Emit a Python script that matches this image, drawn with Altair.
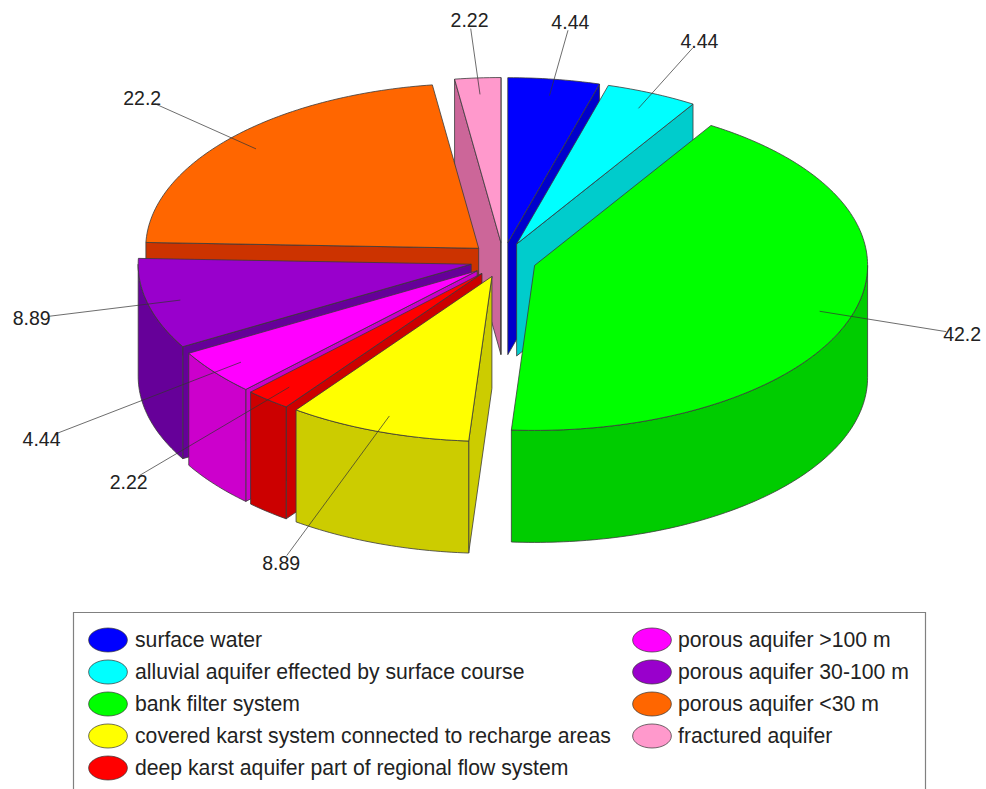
import numpy as np
import pandas as pd
import altair as alt

# Source categories, in clockwise order from twelve o'clock
categories = [
    "surface water",
    "alluvial aquifer effected by surface course",
    "bank filter system",
    "covered karst system connected to recharge areas",
    "deep karst aquifer part of regional flow system",
    "porous aquifer >100 m",
    "porous aquifer 30-100 m",
    "porous aquifer <30 m",
    "fractured aquifer",
]
shares = [4.44, 4.44, 42.2, 8.89, 2.22, 4.44, 8.89, 22.2, 2.22]
top_colors = ["#0000FF", "#00FFFF", "#00FF00", "#FFFF00", "#FF0000",
              "#FF00FF", "#9900CC", "#FF6600", "#FF99CC"]
side_colors = ["#0000CC", "#00CCCC", "#00CC00", "#CCCC00", "#CC0000",
               "#CC00CC", "#660099", "#CC3300", "#CC6699"]

# Pie projection, in pixels of the 986x789 canvas
CX, CY = 503.2, 260.0      # pie centre
RX, RY = 333.0, 165.0      # ellipse radii of a slice
EX, EY = 33.0, 17.5        # explosion distance of each slice
DEPTH = 112.0              # height of the extruded wall
LABEL_REACH = [1.35, 1.35, 1.35, 1.85, 1.65, 1.66, 1.36, 1.36, 1.35]
PAINT_ORDER = [8, 0, 1, 7, 6, 5, 4, 3, 2]  # back to front

W, H = 986, 789
x_scale = alt.Scale(domain=[0, W], range=[0, W], nice=False, zero=False)
y_scale = alt.Scale(domain=[0, H], range=[0, H], nice=False, zero=False)
X = lambda f="x": alt.X(f"{f}:Q", scale=x_scale, axis=None)
Y = lambda f="y": alt.Y(f"{f}:Q", scale=y_scale, axis=None)

edges = np.concatenate([[0], np.cumsum(shares)]) / np.sum(shares) * 360.0


def ellipse_arc(ox, oy, a, b, drop=0.0):
    t = np.radians(np.linspace(a, b, max(2, int(abs(b - a)) + 2)))
    return list(zip(ox + RX * np.sin(t), oy - RY * np.cos(t) + drop))


rows = []


def add_polygon(points, fill):
    pid = f"p{len(set(r['poly'] for r in rows)):03d}"
    closed = list(points) + [points[0]]
    for seq, (px, py) in enumerate(closed):
        rows.append({"poly": pid, "seq": seq, "x": float(px), "y": float(py), "fill": fill})


leaders, labels = [], []
for i in range(len(shares)):
    a, b = edges[i], edges[i + 1]
    mid = np.radians((a + b) / 2)
    ox = CX + EX * np.sin(mid)
    oy = CY - EY * np.cos(mid)

    leader_pts = []
    for f in (0.9, LABEL_REACH[i] - 0.05):
        leader_pts.append((ox + RX * f * np.sin(mid), oy - RY * f * np.cos(mid)))
    for seq, (px, py) in enumerate(leader_pts):
        leaders.append({"id": categories[i], "seq": seq, "x": px, "y": py})
    f = LABEL_REACH[i]
    labels.append({"x": ox + RX * f * np.sin(mid), "y": oy - RY * f * np.cos(mid) + 1,
                   "text": str(shares[i])})

# Faces are painted slice by slice so nearer ones hide the farther ones
for i in PAINT_ORDER:
    a, b = edges[i], edges[i + 1]
    mid = np.radians((a + b) / 2)
    ox = CX + EX * np.sin(mid)
    oy = CY - EY * np.cos(mid)
    rim = ellipse_arc(ox, oy, a, b)

    # Radial cut faces that look toward the viewer
    if np.sin(np.radians(a)) < 0:
        p = rim[0]
        add_polygon([(ox, oy), p, (p[0], p[1] + DEPTH), (ox, oy + DEPTH)], side_colors[i])
    if np.sin(np.radians(b)) > 0:
        p = rim[-1]
        add_polygon([(ox, oy), p, (p[0], p[1] + DEPTH), (ox, oy + DEPTH)], side_colors[i])

    # Outer wall, only where the rim faces the viewer
    lo, hi = max(a, 90.0), min(b, 270.0)
    if hi > lo:
        upper = ellipse_arc(ox, oy, lo, hi)
        lower = ellipse_arc(ox, oy, lo, hi, DEPTH)
        add_polygon(upper + lower[::-1], side_colors[i])

    # Top surface
    add_polygon([(ox, oy)] + rim, top_colors[i])

faces = (
    alt.Chart(pd.DataFrame(rows))
    .mark_line(stroke="#3a3a3a", strokeWidth=0.8, strokeJoin="round", clip=False)
    .encode(x=X(), y=Y(), detail="poly:N", order="seq:Q",
            fill=alt.Fill("fill:N", scale=None))
)

leader_layer = (
    alt.Chart(pd.DataFrame(leaders))
    .mark_line(stroke="#333333", strokeWidth=0.9, opacity=0.8)
    .encode(x=X(), y=Y(), detail="id:N", order="seq:Q")
)

label_layer = (
    alt.Chart(pd.DataFrame(labels))
    .mark_text(font="Liberation Sans", fontSize=19.5, color="#222222",
               align="center", baseline="middle")
    .encode(x=X(), y=Y(), text="text:N")
)

# Legend panel: open at the bottom, where the canvas ends
frame = pd.DataFrame({"x": [73.5, 73.5, 925.5, 925.5],
                      "y": [H, 612.5, 612.5, H], "seq": [0, 1, 2, 3]})
frame_layer = (
    alt.Chart(frame)
    .mark_line(stroke="#808080", strokeWidth=1.2)
    .encode(x=X(), y=Y(), order="seq:Q")
)

ROW_START, ROW_STEP = 640.0, 32.0
COLUMN_SWATCH = [108.0, 652.0]
COLUMN_TEXT = [135.0, 678.0]
legend_rows = []
for i, name in enumerate(categories):
    col = 0 if i < 5 else 1
    row = i if i < 5 else i - 5
    legend_rows.append({
        "swatch_x": COLUMN_SWATCH[col], "text_x": COLUMN_TEXT[col],
        "y": ROW_START + ROW_STEP * row, "text_y": ROW_START + ROW_STEP * row + 1,
        "name": name, "fill": top_colors[i],
    })
legend_df = pd.DataFrame(legend_rows)

ELLIPSE = "M-1,0A1,0.62,0,1,1,1,0A1,0.62,0,1,1,-1,0Z"
swatches = (
    alt.Chart(legend_df)
    .mark_point(shape=ELLIPSE, size=1500, filled=True, stroke="#333333",
                strokeWidth=0.7, opacity=1)
    .encode(x=X("swatch_x"), y=Y(), fill=alt.Fill("fill:N", scale=None))
)
legend_text = (
    alt.Chart(legend_df)
    .mark_text(font="Liberation Sans", fontSize=21.2, color="#222222",
               align="left", baseline="middle")
    .encode(x=X("text_x"), y=Y("text_y"), text="name:N")
)

chart = (
    alt.layer(faces, leader_layer, label_layer, frame_layer, swatches, legend_text)
    .properties(width=W, height=H, padding=0,
                autosize=alt.AutoSizeParams(type="none"), background="white")
    .configure_view(stroke=None)
)

chart.save("out.html", embed_options={"renderer": "svg", "actions": False})
